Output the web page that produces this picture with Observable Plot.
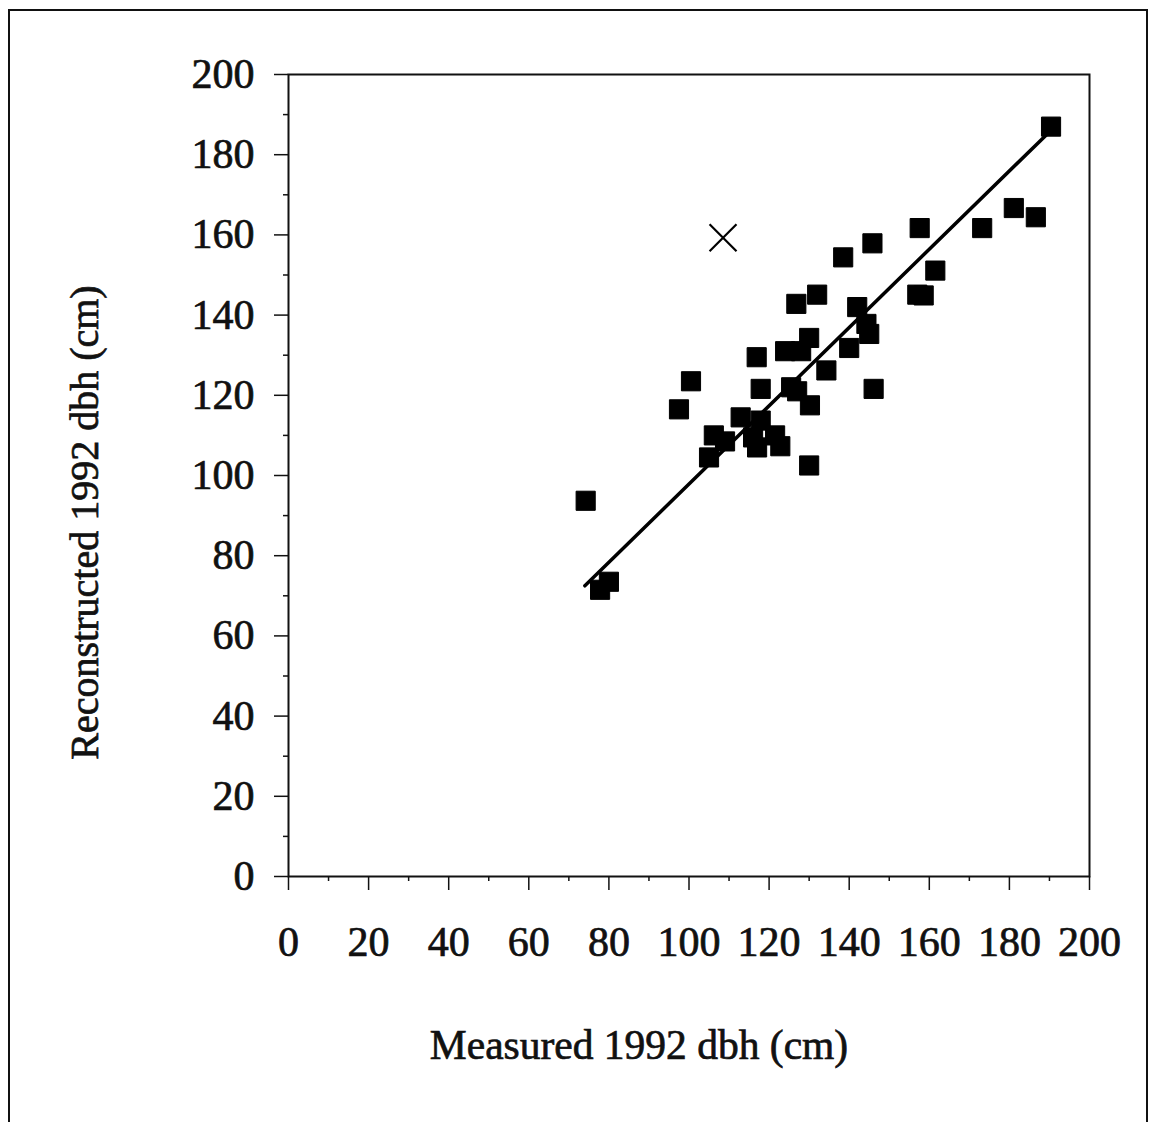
<!DOCTYPE html>
<html>
<head>
<meta charset="utf-8">
<script src="https://cdn.jsdelivr.net/npm/d3@7"></script>
<script src="https://cdn.jsdelivr.net/npm/@observablehq/plot@0.6"></script>
<style>
  html, body { margin: 0; padding: 0; background: #fff; }
  #wrap { position: relative; width: 1149px; height: 1122px; overflow: hidden; }
  #border { position: absolute; left: 8px; top: 9px; width: 1140px; height: 1130px; border: 2px solid #111; box-sizing: border-box; pointer-events: none; }
  #chart { position: absolute; left: 0; top: 0; }
  #chart svg text { stroke: #111; stroke-width: 0.7px; paint-order: stroke; }
</style>
</head>
<body>
<div id="wrap"><div id="chart"></div><div id="border"></div></div>
<script>
// Measured 1992 dbh (cm) and reconstructed 1992 dbh (cm), square markers
const measured = [74.2, 77.8, 80.0, 97.5, 100.5, 105.0, 106.2, 109.0, 112.9, 117.9, 116.0, 117.0, 121.5, 122.8,
  116.9, 117.9, 124.0, 128.0, 130.0, 126.8, 132.0, 125.5, 127.0, 130.2, 130.0, 134.3, 138.5, 140.0,
  142.0, 144.3, 145.0, 146.1, 145.8, 157.0, 158.6, 157.6, 161.5, 173.2, 181.1, 186.6, 190.4];
const reconstructed = [93.7, 71.5, 73.5, 116.5, 123.5, 104.5, 110.0, 108.5, 114.5, 113.7, 109.5, 107.0, 110.0, 107.3,
  129.5, 121.6, 131.0, 131.0, 134.3, 142.8, 145.1, 122.0, 121.0, 117.5, 102.5, 126.2, 154.4, 131.8,
  142.0, 137.8, 135.3, 121.6, 157.9, 145.1, 144.9, 161.7, 151.1, 161.7, 166.7, 164.4, 187.0];
// Outlier marked with an X
const outlierX = [108.5];
const outlierY = [159.3];
// Fitted line endpoints
const lineX = [74.0, 190.3];
const lineY = [72.5, 186.0];
// Tick values
const majorTicks = [0, 20, 40, 60, 80, 100, 120, 140, 160, 180, 200];
const minorTicks = [10, 30, 50, 70, 90, 110, 130, 150, 170, 190];
const xTitle = "Measured 1992 dbh (cm)";
const yTitle = "Reconstructed 1992 dbh (cm)";

const points = measured.map((m, i) => ({x: m, y: reconstructed[i]}));
const outliers = outlierX.map((m, i) => ({x: m, y: outlierY[i]}));
const fit = lineX.map((m, i) => ({x: m, y: lineY[i]}));

const FONT = "'Liberation Serif', 'Times New Roman', serif";

const chart = Plot.plot({
  width: 1149,
  height: 1122,
  marginLeft: 288,
  marginRight: 60,
  marginTop: 74,
  marginBottom: 246,
  style: {fontFamily: FONT, color: "#111", background: "transparent", overflow: "visible"},
  x: {domain: [0, 200]},
  y: {domain: [0, 200]},
  marks: [
    Plot.frame({stroke: "#111", strokeWidth: 2}),
    Plot.axisX({ticks: minorTicks, tickSize: 5, text: null, strokeWidth: 1.5, label: null}),
    Plot.axisY({ticks: minorTicks, tickSize: 5, text: null, strokeWidth: 1.5, label: null}),
    Plot.axisX({ticks: majorTicks, tickSize: 14, tickPadding: 36, fontSize: 42, strokeWidth: 1.5, label: null,
      tickFormat: d => String(d), style: {letterSpacing: "2.5px"}}),
    Plot.axisY({ticks: majorTicks, tickSize: 14, tickPadding: 20, fontSize: 42, strokeWidth: 1.5, label: null,
      tickFormat: d => String(d), style: {letterSpacing: "2.5px"}}),
    Plot.line(fit, {x: "x", y: "y", stroke: "#000", strokeWidth: 3.5}),
    Plot.dot(points, {x: "x", y: "y", symbol: "square", r: 10.8, fill: "#000", stroke: "#000", strokeWidth: 1, strokeLinejoin: "round"}),
    Plot.dot(outliers, {x: "x", y: "y", symbol: "times", r: 12.3, stroke: "#000", strokeWidth: 2.2}),
    Plot.text([xTitle], {frameAnchor: "bottom", textAnchor: "middle", dx: -50, dy: 182, fontSize: 41.5, fill: "#111"}),
    Plot.text([yTitle], {frameAnchor: "left", textAnchor: "middle", dx: -203, dy: 47, rotate: -90, fontSize: 40, fill: "#111"})
  ]
});
document.getElementById("chart").appendChild(chart);
</script>
</body>
</html>
